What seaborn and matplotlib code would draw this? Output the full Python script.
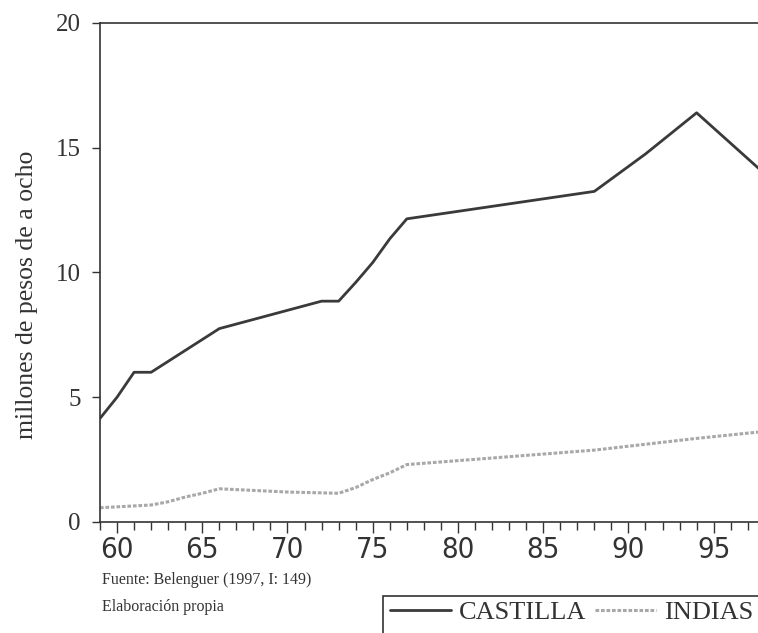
import numpy as np
import pandas as pd
import matplotlib
matplotlib.use("Agg")
import matplotlib.pyplot as plt
from matplotlib.ticker import MultipleLocator
from matplotlib.patches import Rectangle
import seaborn as sns

# ── DATA (años 1559-1598, millones de pesos de a ocho) ──────────────
castilla_anos = [59, 60, 61, 62, 66, 72, 73, 74, 75, 76, 77, 88, 91, 94, 98]
castilla_vals = [4.15, 5.0, 6.0, 6.0, 7.75, 8.85, 8.85, 9.6, 10.4, 11.35, 12.15,
                 13.25, 14.75, 16.4, 13.95]

indias_anos = [59, 62, 63, 64, 65, 66, 70, 73, 74, 75, 76, 77, 88, 94, 98]
indias_vals = [0.57, 0.68, 0.81, 1.0, 1.15, 1.33, 1.2, 1.15, 1.38, 1.7, 1.97,
               2.3, 2.88, 3.35, 3.63]

series_names = ["CASTILLA", "INDIAS"]
x_ticks = [60, 65, 70, 75, 80, 85, 90, 95]
y_ticks = [0, 5, 10, 15, 20]

df = pd.concat([
    pd.DataFrame({"ano": castilla_anos, "valor": castilla_vals, "serie": series_names[0]}),
    pd.DataFrame({"ano": indias_anos, "valor": indias_vals, "serie": series_names[1]}),
])

# ── FIGURE ──────────────────────────────────────────────────────────
sns.set_style("ticks")
plt.rcParams["font.family"] = ["Liberation Serif", "DejaVu Serif"]

fig = plt.figure(figsize=(7.58, 6.33), dpi=100)
ax = fig.add_axes([0.1319, 0.1754, 0.8681, 0.7883])

sns.lineplot(data=df[df.serie == "CASTILLA"], x="ano", y="valor", ax=ax,
             color="#3a3a3a", linewidth=2.0, label="CASTILLA")
sns.lineplot(data=df[df.serie == "INDIAS"], x="ano", y="valor", ax=ax,
             color="#a8a8a8", linewidth=2.2, linestyle=(0, (1.2, 0.6)), label="INDIAS")

ax.set_xlim(59, 97.6)
ax.set_ylim(0, 20)
ax.set_xticks(x_ticks)
ax.xaxis.set_minor_locator(MultipleLocator(1))
ax.set_yticks(y_ticks)
ax.set_xlabel("")
ax.set_ylabel("")

for s in ["left", "top", "bottom"]:
    ax.spines[s].set_visible(True)
    ax.spines[s].set_color("#333333")
    ax.spines[s].set_linewidth(1.2)
ax.spines["right"].set_visible(False)

ax.tick_params(axis="y", direction="out", length=6, width=1, pad=8,
               labelsize=18, colors="#333333")
ax.tick_params(axis="x", which="major", direction="out", length=8, width=1,
               pad=2, colors="#333333")
ax.tick_params(axis="x", which="minor", direction="out", length=6, width=1,
               colors="#333333")
for lab in ax.get_xticklabels():
    lab.set_family(["DejaVu Sans"])
    lab.set_stretch("condensed")
    lab.set_fontweight("light")
    lab.set_fontsize(21)

fig.text(0.036, 0.534, "millones de pesos de a ocho", rotation=90,
         ha="center", va="center", fontsize=18.5, color="#333333")

fig.text(0.135, 0.084, "Fuente: Belenguer (1997, I: 149)", fontsize=11.5,
         va="center", color="#333333")
fig.text(0.135, 0.041, "Elaboración propia", fontsize=11.5,
         va="center", color="#333333")

# legend: box runs off the right and bottom edges as in the scan
leg = ax.legend(loc="center left", bbox_to_anchor=(0.5145, 0.032),
                bbox_transform=fig.transFigure, ncol=2, fontsize=19,
                frameon=False, handlelength=2.3, borderpad=0,
                columnspacing=0.35, handletextpad=0.3, borderaxespad=0)
for t in leg.get_texts():
    t.set_color("#333333")
fig.add_artist(Rectangle((383 / 758, -0.1), 0.6, 0.1585, transform=fig.transFigure,
                         fill=False, edgecolor="#333333", linewidth=1.2))

fig.savefig("out.png", dpi=100)
